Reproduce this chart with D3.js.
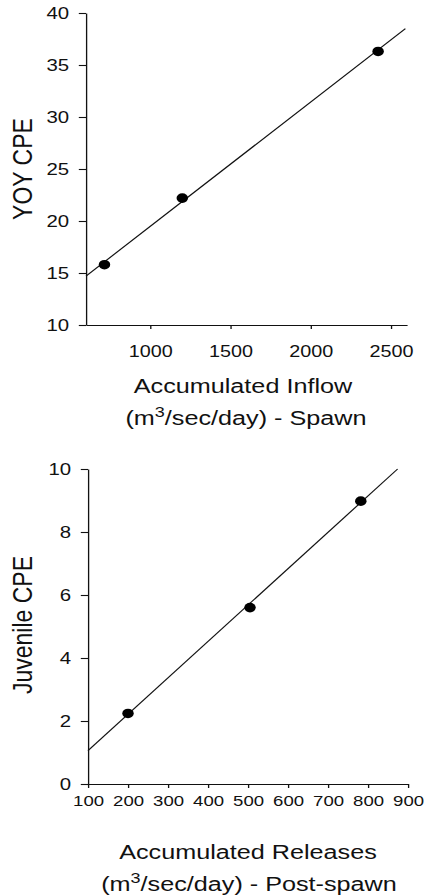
<!DOCTYPE html>
<html>
<head>
<meta charset="utf-8">
<script src="https://cdn.jsdelivr.net/npm/d3@7"></script>
<style>
  body { margin: 0; background: #fff; }
  svg { display: block; }
  text { font-family: "Liberation Sans", Arial, sans-serif; fill: #111; }
</style>
</head>
<body>
<div id="chart"></div>
<script>
// Top panel: YOY CPE vs accumulated inflow
const inflow = [715, 1200, 2420];
const yoyCPE = [15.8, 22.2, 36.3];
const inflowFitX = [600, 2590];
const inflowFitY = [14.7, 38.5];
const inflowTicks = [1000, 1500, 2000, 2500];
const yoyTicks = [10, 15, 20, 25, 30, 35, 40];

// Bottom panel: juvenile CPE vs accumulated releases
const releases = [200, 505, 782];
const juvCPE = [2.24, 5.6, 8.98];
const releasesFitX = [100, 874];
const releasesFitY = [1.06, 10];
const releasesTicks = [100, 200, 300, 400, 500, 600, 700, 800, 900];
const juvTicks = [0, 2, 4, 6, 8, 10];

const W = 425, H = 895;
// the scanned figure is stretched sideways, so x units are squeezed in the viewBox
const sx = 1.2;

const svg = d3.select("#chart")
    .append("svg")
    .attr("width", W)
    .attr("height", H)
    .attr("viewBox", `0 0 ${W / sx} ${H}`)
    .attr("preserveAspectRatio", "none");

function panel(opts) {
    const x = d3.scaleLinear().domain(opts.xDomain).range([opts.left / sx, opts.right / sx]);
    const y = d3.scaleLinear().domain(opts.yDomain).range([opts.bottom, opts.top]);
    const g = svg.append("g");

    // y axis
    g.append("g")
        .attr("transform", `translate(${x.range()[0]},0)`)
        .call(d3.axisLeft(y).tickValues(opts.yTicks).tickFormat(d3.format("d"))
            .tickSize(6).tickPadding(8).tickSizeOuter(0))
        .call(a => a.selectAll("text").style("font-size", "17px"));

    // x axis
    g.append("g")
        .attr("transform", `translate(0,${opts.bottom})`)
        .call(d3.axisBottom(x).tickValues(opts.xTicks).tickFormat(d3.format("d"))
            .tickSize(4).tickPadding(opts.xPad).tickSizeOuter(0))
        .call(a => a.selectAll("text").style("font-size", opts.xFont));

    g.selectAll(".domain, .tick line").attr("stroke", "#111").attr("stroke-width", 1.1);

    // fitted line
    const fit = opts.fitX.map((v, i) => [v, opts.fitY[i]]);
    g.append("path")
        .datum(fit)
        .attr("fill", "none")
        .attr("stroke", "#111")
        .attr("stroke-width", 1.1)
        .attr("d", d3.line().x(d => x(d[0])).y(d => y(d[1])));

    // points
    g.selectAll("circle")
        .data(opts.xs.map((v, i) => [v, opts.ys[i]]))
        .enter()
        .append("circle")
        .attr("cx", d => x(d[0]))
        .attr("cy", d => y(d[1]))
        .attr("r", 4.8)
        .attr("fill", "#000");

    // y label
    g.append("text")
        .attr("transform", `translate(${opts.yLabelX / sx},${opts.yLabelY}) rotate(-90)`)
        .attr("text-anchor", "middle")
        .style("font-size", "23px")
        .text(opts.yLabel);

    // x label, two lines with superscript 3
    g.append("text")
        .attr("x", opts.xLabelX / sx)
        .attr("y", opts.xLabelY)
        .attr("text-anchor", "middle")
        .style("font-size", "21px")
        .text(opts.xLabel);

    const t2 = g.append("text")
        .attr("x", opts.xLabelX2 / sx)
        .attr("y", opts.xLabelY + 32)
        .attr("text-anchor", "middle")
        .style("font-size", "21px");
    t2.append("tspan").text("(m");
    t2.append("tspan").attr("dy", -8).style("font-size", "15px").text("3");
    t2.append("tspan").attr("dy", 8).text(opts.xLabelTail);
}

panel({
    xs: inflow, ys: yoyCPE, fitX: inflowFitX, fitY: inflowFitY,
    xDomain: [600, 2600], yDomain: [10, 40],
    xTicks: inflowTicks, yTicks: yoyTicks,
    left: 86, right: 407, top: 13, bottom: 325,
    xPad: 16, xFont: "16.5px",
    yLabel: "YOY CPE", yLabelX: 32, yLabelY: 169,
    xLabel: "Accumulated Inflow", xLabelX: 243, xLabelX2: 246, xLabelY: 393,
    xLabelTail: "/sec/day) - Spawn"
});

panel({
    xs: releases, ys: juvCPE, fitX: releasesFitX, fitY: releasesFitY,
    xDomain: [100, 900], yDomain: [0, 10],
    xTicks: releasesTicks, yTicks: juvTicks,
    left: 88, right: 408, top: 469, bottom: 784,
    xPad: 7, xFont: "15.5px",
    yLabel: "Juvenile CPE", yLabelX: 32, yLabelY: 625,
    xLabel: "Accumulated Releases", xLabelX: 248, xLabelX2: 249, xLabelY: 859,
    xLabelTail: "/sec/day) - Post-spawn"
});
</script>
</body>
</html>
